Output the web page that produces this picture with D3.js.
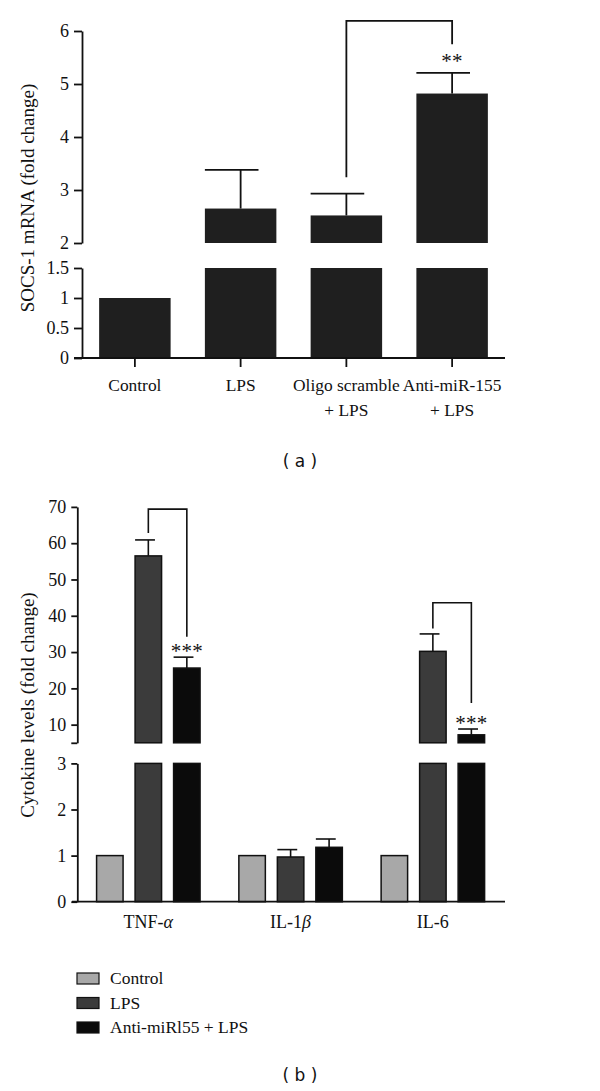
<!DOCTYPE html>
<html>
<head>
<meta charset="utf-8">
<script src="https://cdn.jsdelivr.net/npm/d3@7"></script>
<style>
  html, body { margin: 0; padding: 0; background: #fff; }
  svg { display: block; }
  .serif { font-family: "Liberation Serif", "Times New Roman", serif; fill: #111; }
  .sans { font-family: "DejaVu Sans", Verdana, sans-serif; fill: #111; }
</style>
</head>
<body>
<svg id="chart" width="600" height="1091"></svg>
<script>
// ---------- Panel (a) data ----------
const catsA = [["Control"], ["LPS"], ["Oligo scramble", "+ LPS"], ["Anti-miR-155", "+ LPS"]];
const valsA = [1.0, 2.65, 2.52, 4.82];
const errA  = [0, 0.73, 0.41, 0.39];
const ticksAUpper = [2, 3, 4, 5, 6];
const ticksALower = [0, 0.5, 1, 1.5];
const labelA = "SOCS-1 mRNA (fold change)";
const sigA = { from: 2, to: 3, text: "**", top: 6.19, leftStart: 3.24, rightEnd: 5.75 };

// ---------- Panel (b) data ----------
const groupsB = ["TNF-\u03B1", "IL-1\u03B2", "IL-6"];
const seriesB = ["Control", "LPS", "Anti-miRl55 + LPS"];
const controlB = [1, 1, 1];
const lpsB = [56.5, 0.97, 30.2];
const antiB = [25.6, 1.18, 7.2];
const controlErrB = [0, 0, 0];
const lpsErrB = [4.4, 0.16, 4.8];
const antiErrB = [3.0, 0.18, 1.6];
const ticksBUpper = [5, 10, 20, 30, 40, 50, 60, 70];
const ticksBLower = [0, 1, 2, 3];
const labelB = "Cytokine levels (fold change)";
const colorsB = ["#a8a8a8", "#3b3b3b", "#0b0b0b"];
const sigB = [
  { group: 0, top: 69.4, leftStart: 62.8, rightEnd: 34.2, text: "***" },
  { group: 2, top: 43.6, leftStart: 36.5, rightEnd: 16.0, text: "***" }
];

const svg = d3.select("#chart");

function drawAxisSeg(g, scale, ticks, x, tickLen, fmt, fontSize) {
  const ax = d3.axisLeft(scale).tickValues(ticks).tickSize(tickLen).tickSizeOuter(0)
    .tickPadding(5).tickFormat(fmt);
  const a = g.append("g").attr("transform", `translate(${x},0)`).call(ax);
  a.select(".domain").attr("stroke", "#111").attr("stroke-width", 1.8);
  a.selectAll(".tick line").attr("stroke", "#111").attr("stroke-width", 1.8);
  a.selectAll(".tick text").attr("class", "serif").attr("font-size", fontSize).attr("fill", "#111");
  a.attr("font-family", null);
  return a;
}

function stars(g, x, capY, gap, text) {
  g.append("text").attr("class", "serif").attr("font-size", 21).attr("text-anchor", "middle")
    .attr("letter-spacing", 0.3)
    .attr("x", x).attr("y", capY - gap + 5.6).text(text);
}

// ================= Panel (a) =================
{
  const g = svg.append("g");
  const x = d3.scaleBand().domain(d3.range(catsA.length)).range([82, 505])
    .paddingInner(0.324).paddingOuter(0.162);
  const yU = d3.scaleLinear().domain([2, 6]).range([243, 31]);
  const yL = d3.scaleLinear().domain([0, 1.5]).range([358, 268]);
  const bw = x.bandwidth();
  const fill = "#1f1f1f";

  valsA.forEach((v, i) => {
    const top = Math.min(v, 1.5);
    g.append("rect").attr("x", x(i)).attr("width", bw)
      .attr("y", yL(top)).attr("height", yL(0) - yL(top)).attr("fill", fill);
    if (v > 2) {
      g.append("rect").attr("x", x(i)).attr("width", bw)
        .attr("y", yU(v)).attr("height", yU(2) - yU(v)).attr("fill", fill);
    }
    if (errA[i] > 0) {
      const cx = x(i) + bw / 2;
      const yt = v + errA[i] > 2 ? yU(v + errA[i]) : yL(v + errA[i]);
      const yb = v > 2 ? yU(v) : yL(v);
      g.append("line").attr("x1", cx).attr("x2", cx).attr("y1", yb).attr("y2", yt)
        .attr("stroke", "#111").attr("stroke-width", 1.8);
      g.append("line").attr("x1", x(i)).attr("x2", cx + bw * 0.25).attr("y1", yt).attr("y2", yt)
        .attr("stroke", "#111").attr("stroke-width", 1.8);
    }
  });

  drawAxisSeg(g, yU, ticksAUpper, 82, 8, d3.format("d"), 18);
  drawAxisSeg(g, yL, ticksALower, 82, 8, d => d3.format("")(d), 18);

  g.append("line").attr("x1", 74).attr("x2", 505).attr("y1", 358).attr("y2", 358)
    .attr("stroke", "#111").attr("stroke-width", 1.8);
  catsA.forEach((lines, i) => {
    const cx = x(i) + bw / 2;
    g.append("line").attr("x1", cx).attr("x2", cx).attr("y1", 358).attr("y2", 367)
      .attr("stroke", "#111").attr("stroke-width", 1.8);
    const t = g.append("text").attr("class", "serif").attr("font-size", 17.4)
      .attr("text-anchor", "middle");
    lines.forEach((s, k) => {
      t.append("tspan").attr("x", cx).attr("y", 391 + k * 25).text(s);
    });
  });

  g.append("text").attr("class", "serif").attr("font-size", 19).attr("text-anchor", "middle")
    .attr("transform", "translate(34,198) rotate(-90)").text(labelA);

  const x1 = x(sigA.from) + bw / 2, x2 = x(sigA.to) + bw / 2;
  g.append("path").attr("d", `M${x1},${yU(sigA.leftStart)}V${yU(sigA.top)}H${x2}V${yU(sigA.rightEnd)}`)
    .attr("fill", "none").attr("stroke", "#111").attr("stroke-width", 1.8);
  stars(g, x2, yU(valsA[sigA.to] + errA[sigA.to]), 10, sigA.text);

  svg.append("text").attr("class", "sans").attr("font-size", 17).attr("text-anchor", "middle")
    .attr("x", 300).attr("y", 467).text("( a )");
}

// ================= Panel (b) =================
{
  const g = svg.append("g");
  const x0 = d3.scaleBand().domain(d3.range(groupsB.length)).range([77.2, 504]);
  const x1 = d3.scaleBand().domain(d3.range(seriesB.length)).range([-57.75, 57.75])
    .paddingInner(0.312).paddingOuter(0.156);
  const yU = d3.scaleLinear().domain([5, 70]).range([742.8, 506.9]);
  const yL = d3.scaleLinear().domain([0, 3]).range([901.7, 763.4]);
  const bw = x1.bandwidth();
  const vals = [controlB, lpsB, antiB];
  const errs = [controlErrB, lpsErrB, antiErrB];

  const bx = (gi, si) => x0(gi) + x0.bandwidth() / 2 + x1(si);

  groupsB.forEach((_, gi) => {
    seriesB.forEach((_, si) => {
      const v = vals[si][gi], e = errs[si][gi];
      const left = bx(gi, si);
      const top = Math.min(v, 3);
      g.append("rect").attr("x", left).attr("width", bw)
        .attr("y", yL(top)).attr("height", yL(0) - yL(top))
        .attr("fill", colorsB[si]).attr("stroke", "#111").attr("stroke-width", 1.5);
      if (v > 5) {
        g.append("rect").attr("x", left).attr("width", bw)
          .attr("y", yU(v)).attr("height", yU(5) - yU(v))
          .attr("fill", colorsB[si]).attr("stroke", "#111").attr("stroke-width", 1.5);
      }
      if (e > 0) {
        const cx = left + bw / 2;
        const yb = v > 5 ? yU(v) : yL(v);
        const yt = v > 5 ? yU(v + e) : yL(v + e);
        g.append("line").attr("x1", cx).attr("x2", cx).attr("y1", yb).attr("y2", yt)
          .attr("stroke", "#111").attr("stroke-width", 1.6);
        g.append("line").attr("x1", left).attr("x2", cx + bw * 0.25).attr("y1", yt).attr("y2", yt)
          .attr("stroke", "#111").attr("stroke-width", 1.6);
      }
    });
  });

  drawAxisSeg(g, yU, ticksBUpper, 77.3, 6, d => d === 5 ? "" : d, 18);
  drawAxisSeg(g, yL, ticksBLower, 77.3, 6, d3.format("d"), 18);

  g.append("line").attr("x1", 72).attr("x2", 505).attr("y1", 901.7).attr("y2", 901.7)
    .attr("stroke", "#111").attr("stroke-width", 1.8);

  groupsB.forEach((name, gi) => {
    const cx = x0(gi) + x0.bandwidth() / 2;
    const t = g.append("text").attr("class", "serif").attr("font-size", 18)
      .attr("text-anchor", "middle").attr("x", cx).attr("y", 928);
    const m = name.match(/^(.*?)([\u03B1\u03B2])$/);
    if (m) {
      t.append("tspan").text(m[1]);
      t.append("tspan").attr("font-style", "italic").text(m[2]);
    } else t.text(name);
  });

  g.append("text").attr("class", "serif").attr("font-size", 19).attr("text-anchor", "middle")
    .attr("transform", "translate(34,705) rotate(-90)").text(labelB);

  sigB.forEach(s => {
    const xa = bx(s.group, 1) + bw / 2, xb = bx(s.group, 2) + bw / 2;
    g.append("path").attr("d", `M${xa},${yU(s.leftStart)}V${yU(s.top)}H${xb}V${yU(s.rightEnd)}`)
      .attr("fill", "none").attr("stroke", "#111").attr("stroke-width", 1.6);
    const v = antiB[s.group] + antiErrB[s.group];
    stars(g, xb, yU(v), 5, s.text);
  });

  const lg = svg.append("g");
  seriesB.forEach((s, i) => {
    const y = 973 + i * 24.5;
    lg.append("rect").attr("x", 77).attr("y", y).attr("width", 22).attr("height", 11)
      .attr("fill", colorsB[i]).attr("stroke", "#111").attr("stroke-width", 1.2);
    lg.append("text").attr("class", "serif").attr("font-size", 17.5)
      .attr("x", 110).attr("y", y + 11).text(s);
  });

  svg.append("text").attr("class", "sans").attr("font-size", 17).attr("text-anchor", "middle")
    .attr("x", 300).attr("y", 1081).text("( b )");
}
</script>
</body>
</html>
